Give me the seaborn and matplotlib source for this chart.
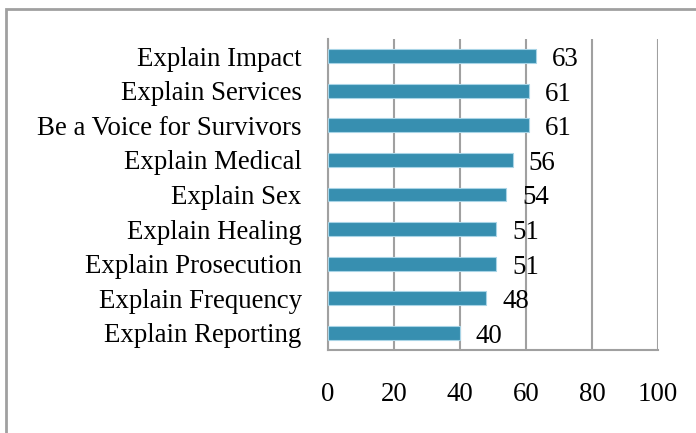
import matplotlib
matplotlib.use('Agg')
import matplotlib.pyplot as plt
import seaborn as sns
import pandas as pd
from matplotlib.patches import Rectangle

# Values
categories = ['Explain Impact', 'Explain Services', 'Be a Voice for Survivors',
              'Explain Medical', 'Explain Sex', 'Explain Healing',
              'Explain Prosecution', 'Explain Frequency', 'Explain Reporting']
values = [63, 61, 61, 56, 54, 51, 51, 48, 40]
x_ticks = [0, 20, 40, 60, 80, 100]

df = pd.DataFrame({'category': categories, 'value': values})

sns.set_style('white')
plt.rcParams['font.family'] = ['Liberation Serif', 'DejaVu Serif']
plt.rcParams['text.color'] = 'black'
plt.rcParams['xtick.labelcolor'] = 'black'
plt.rcParams['ytick.labelcolor'] = 'black'
grid_col = '#A0A0A0'
fs = 19.4

fig = plt.figure(figsize=(6.96, 4.33), dpi=100)
ax = fig.add_axes([0.4713, 0.1917, 0.9454 - 0.4713, 0.9099 - 0.1917])

sns.barplot(data=df, y='category', x='value', orient='h', order=categories,
            color='#378FB0', saturation=1, width=0.4, edgecolor='#A8D4E6',
            linewidth=0.8, ax=ax, zorder=3)

ax.set_xlim(0, 100)
ax.set_ylim(len(categories) - 0.5, -0.5)
ax.set_xticks(x_ticks)
ax.set_xticklabels([str(t) for t in x_ticks])
ax.set_xlabel('')
ax.set_ylabel('')

# vertical gridlines
ax.grid(axis='x', color=grid_col, linewidth=1.5, zorder=0)
ax.set_axisbelow(True)

# category ticks sit between the bars
ax.set_yticks(range(len(categories)))
ax.set_yticklabels(categories)
ax.set_yticks([i - 0.5 for i in range(len(categories) + 1)], minor=True)
ax.tick_params(axis='y', which='major', length=0, pad=19, labelsize=fs)
ax.tick_params(axis='y', which='minor', length=5.5, width=1.5, color=grid_col, direction='out')
ax.tick_params(axis='x', length=6, width=1.5, color=grid_col, direction='out', pad=17, labelsize=fs)

for side in ['top', 'right']:
    ax.spines[side].set_visible(False)
for side in ['left', 'bottom']:
    ax.spines[side].set_color(grid_col)
    ax.spines[side].set_linewidth(1.5)

for i, v in enumerate(values):
    ax.annotate(str(v), xy=(v, i), xytext=(11.5, -2.5), textcoords='offset points',
                va='center', ha='left', fontsize=fs, color='black', zorder=4)

# chart-area frame
fig.patches.append(Rectangle((6 / 696, -0.1), 1.2, 1.1 - 9 / 433, transform=fig.transFigure,
                             fill=False, edgecolor='#A0A0A0', linewidth=2, zorder=0))

fig.savefig('out.png', dpi=100, facecolor='white')
